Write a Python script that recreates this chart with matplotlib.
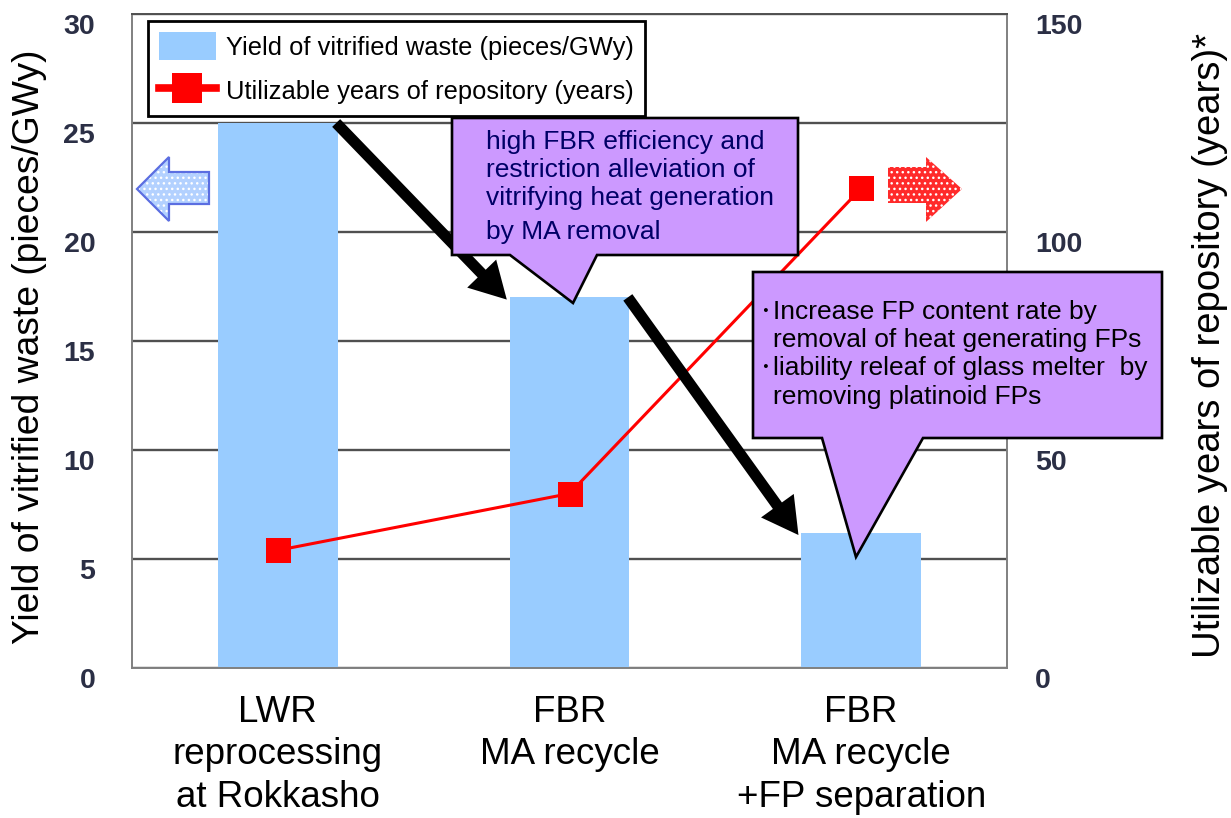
import matplotlib
matplotlib.use("Agg")
import matplotlib.pyplot as plt
import numpy as np
from matplotlib import font_manager
from matplotlib.lines import Line2D
from matplotlib.patches import Polygon, Rectangle
from matplotlib.transforms import ScaledTranslation

# ---- data ----
categories = ["LWR\nreprocessing\nat Rokkasho", "FBR\nMA recycle", "FBR\nMA recycle\n+FP separation"]
waste_yield = [25.0, 17.0, 6.2]        # vitrified waste, pieces/GWy (left axis)
repository_years = [27, 40, 110]       # utilizable years of repository (right axis)
left_ticks = [0, 5, 10, 15, 20, 25, 30]
right_ticks = [0, 50, 100, 150]

bar_label = "Yield of vitrified waste (pieces/GWy)"
line_label = "Utilizable years of repository (years)"
left_title = "Yield of vitrified waste (pieces/GWy)"
right_title = "Utilizable years of repository (years)*"

note_ma = ["high FBR efficiency and", "restriction alleviation of",
           "vitrifying heat generation", "by MA removal"]
note_fp = ["Increase FP content rate by", "removal of heat generating FPs",
           "liability releaf of glass melter  by", "removing platinoid FPs"]
note_fp_bullets = [0, 2]

BAR_COLOR = "#99ccff"
LINE_COLOR = "#ff0000"
NOTE_COLOR = "#cc99ff"
TICK_COLOR = "#2b2f45"

W, H = 1231, 818
fig = plt.figure(figsize=(W / 100, H / 100), dpi=100)
fig.patch.set_facecolor("white")


def fx(px):
    return px / W


def fy(py):
    return 1 - py / H


installed = {f.name for f in font_manager.fontManager.ttflist}
SANS = "Liberation Sans"
NARROW = "Liberation Sans Narrow" if "Liberation Sans Narrow" in installed else SANS
narrow_size = 31 if NARROW != SANS else 27.5

ax = fig.add_axes([fx(132), fy(668), 875 / W, 654 / H])
x = np.arange(len(categories))
bar_w = 0.41
bars = ax.bar(x, waste_yield, width=bar_w, color=BAR_COLOR, zorder=2)
ax.set_xlim(-0.5, len(categories) - 0.5)
ax.set_ylim(left_ticks[0], left_ticks[-1])
ax.set_yticks(left_ticks)
ax.set_axisbelow(True)
ax.grid(axis="y", color="#505050", lw=1.7)
ax.set_xticks(x, categories, fontsize=26.5, family=SANS, linespacing=1.27)
ax.tick_params(axis="x", length=0, pad=19.5)
ax.tick_params(axis="y", length=0, pad=26.5, labelsize=20.5, labelcolor=TICK_COLOR)
for lab in ax.get_yticklabels():
    lab.set_fontweight("bold")
    lab.set_family(SANS)

for side, sp in ax.spines.items():
    sp.set_color("#808080")
    sp.set_linewidth(1.4)
ax.spines["top"].set_color("#505050")

ax.set_ylabel(left_title, fontsize=26.8, family=SANS)
ax.yaxis.set_label_coords((30 - 132) / 875, (668 - 347) / 654)
ax.yaxis.label.set_va("center")

ax2 = ax.twinx()
ax2.plot(x, repository_years, color=LINE_COLOR, lw=2.2, marker="s", ms=18,
         mec=LINE_COLOR, mew=0, zorder=3)
ax2.set_ylim(right_ticks[0], right_ticks[-1])
ax2.set_yticks(right_ticks)
ax2.tick_params(axis="y", length=0, pad=20, labelsize=20.5, labelcolor=TICK_COLOR)
for lab in ax2.get_yticklabels():
    lab.set_fontweight("bold")
    lab.set_family(SANS)
for sp in ax2.spines.values():
    sp.set_visible(False)
ax2.set_ylabel(right_title, fontsize=narrow_size, family=NARROW)
ax2.yaxis.set_label_coords((1210 - 132) / 875, (668 - 345) / 654)
ax2.yaxis.label.set_va("center")

# tick numbers sit a little below their gridlines
shift = ScaledTranslation(0, -10 / 100, fig.dpi_scale_trans)
for axis in (ax.yaxis, ax2.yaxis):
    for tick in axis.get_major_ticks():
        for lab in (tick.label1, tick.label2):
            lab.set_transform(lab.get_transform() + shift)

# legend
legend_handles = [
    Rectangle((0, 0), 1, 1, facecolor=BAR_COLOR, edgecolor="none"),
    Line2D([], [], color=LINE_COLOR, lw=5.5, marker="s", ms=21.6, mew=0),
]
leg = ax2.legend(legend_handles, [bar_label, line_label],
                 loc="upper left", bbox_to_anchor=(fx(148), fy(21)),
                 bbox_transform=fig.transFigure, borderaxespad=0,
                 prop={"family": SANS, "size": 18.4}, frameon=True,
                 fancybox=False, framealpha=1, edgecolor="black",
                 handlelength=2.25, handleheight=1.35, handletextpad=0.4,
                 borderpad=0.42, labelspacing=0.62, numpoints=1)
leg.get_frame().set_linewidth(2)
leg.set_zorder(5)

# black trend arrows from the top of each bar to the top of the next
for i in range(len(waste_yield) - 1):
    tail = (x[i] + bar_w / 2 - 0.005, waste_yield[i])
    tip = (x[i + 1] - bar_w / 2 - 0.01, waste_yield[i + 1] - 0.1)
    ax2.annotate("", xy=tip, xytext=tail, xycoords=ax.transData,
                 textcoords=ax.transData, annotation_clip=False, zorder=4,
                 arrowprops=dict(arrowstyle="simple,head_length=2.6,head_width=2.9,tail_width=0.8",
                                 mutation_scale=10, color="black", lw=0,
                                 shrinkA=0, shrinkB=0))


def fig_poly(pts, **kw):
    p = Polygon([(fx(a), fy(b)) for a, b in pts], closed=True,
                transform=fig.transFigure, **kw)
    fig.patches.append(p)
    return p


# dotted direction arrows pointing at each axis
left_arrow = [(137, 189), (169, 157), (169, 172), (209, 172), (209, 204), (169, 204), (169, 221)]
fig_poly(left_arrow, facecolor="#b3d1ff", edgecolor="none", zorder=2)
fig_poly(left_arrow, facecolor="none", edgecolor="white", hatch="...", lw=0, zorder=2)
fig_poly(left_arrow, facecolor="none", edgecolor="#5b6ee1", lw=1.6, zorder=2)

right_arrow = [(888, 167), (926, 167), (926, 157), (962, 189), (926, 222), (926, 203), (888, 203)]
fig_poly(right_arrow, facecolor="#ff2a2a", edgecolor="none", zorder=2)
fig_poly(right_arrow, facecolor="none", edgecolor="white", hatch="...", lw=0, zorder=2)

# callout notes
fig_poly([(452, 118), (798, 118), (798, 255), (597, 255), (573, 303), (510, 255), (452, 255)],
         facecolor=NOTE_COLOR, edgecolor="black", lw=1.9, zorder=6)
for line, yy in zip(note_ma, [142, 170, 198, 232]):
    fig.text(fx(486), fy(yy), line, fontsize=19, family=SANS, color="#000066",
             ha="left", va="center", zorder=7)

fig_poly([(753, 272), (1162, 272), (1162, 438), (923, 438), (856, 557), (822, 438), (753, 438)],
         facecolor=NOTE_COLOR, edgecolor="black", lw=1.9, zorder=6)
for k, (line, yy) in enumerate(zip(note_fp, [312, 340, 368, 397])):
    fig.text(fx(773), fy(yy), line, fontsize=19, family=SANS, color="black",
             ha="left", va="center", zorder=7)
    if k in note_fp_bullets:
        fig.text(fx(771), fy(yy), "\uff65", fontsize=17, family=["Noto Sans CJK JP", SANS],
                 color="black", ha="right", va="center", zorder=7)

fig.savefig("out.png", dpi=100, facecolor="white")
